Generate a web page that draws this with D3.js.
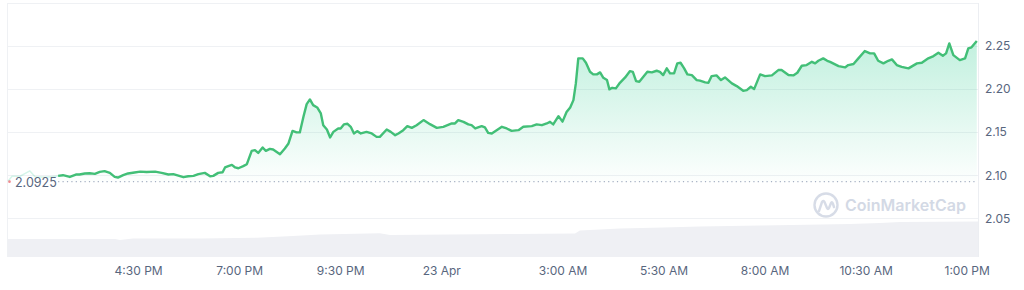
<!DOCTYPE html>
<html>
<head>
<meta charset="utf-8">
<script src="https://cdn.jsdelivr.net/npm/d3@7"></script>
<style>
  html, body { margin: 0; padding: 0; background: #fff; }
  svg { display: block; font-family: Inter, "Noto Sans", sans-serif; }
</style>
</head>
<body>
<div id="chart"></div>
<script>
// hours counted from 22 Apr 00:00
const fadedHours = [13.28, 13.38, 13.58, 13.82, 13.95, 14.2, 14.52];
const fadedPrices = [2.093, 2.0988, 2.0988, 2.105, 2.0983, 2.0977, 2.0992];

const priceHours = [
  14.52, 14.64, 14.81, 14.96, 15.05, 15.18, 15.3, 15.43, 15.55, 15.67, 15.8, 15.92, 16.0, 16.13, 16.25, 16.41, 16.55, 16.71, 16.92, 17.08,
  17.25, 17.37, 17.62, 17.74, 17.87, 17.99, 18.15, 18.28, 18.36, 18.48, 18.59, 18.65, 18.73, 18.82, 18.9, 18.98, 19.1, 19.19, 19.31, 19.39,
  19.47, 19.58, 19.66, 19.76, 19.84, 20.01, 20.13, 20.22, 20.32, 20.42, 20.5, 20.59, 20.67, 20.75, 20.83, 20.93, 21.02, 21.08, 21.17, 21.25,
  21.33, 21.45, 21.51, 21.59, 21.68, 21.76, 21.84, 21.92, 22.01, 22.15, 22.28, 22.4, 22.48, 22.65, 22.75, 22.86, 22.94, 23.06, 23.16, 23.27,
  23.39, 23.56, 23.72, 23.89, 24.05, 24.26, 24.34, 24.42, 24.55, 24.67, 24.75, 24.84, 25.0, 25.08, 25.16, 25.25, 25.5, 25.62, 25.74, 25.91,
  26.03, 26.24, 26.36, 26.49, 26.61, 26.69, 26.77, 26.9, 27.0, 27.1, 27.19, 27.27, 27.33, 27.39, 27.5, 27.58, 27.68, 27.76, 27.85, 27.93,
  28.01, 28.1, 28.16, 28.23, 28.32, 28.42, 28.55, 28.67, 28.74, 28.82, 28.9, 29.0, 29.1, 29.21, 29.33, 29.41, 29.49, 29.58, 29.66, 29.76,
  29.84, 29.92, 30.01, 30.09, 30.2, 30.32, 30.4, 30.53, 30.61, 30.69, 30.81, 30.92, 31.02, 31.19, 31.31, 31.47, 31.56, 31.66, 31.74, 31.89,
  32.01, 32.18, 32.34, 32.42, 32.59, 32.71, 32.81, 32.92, 33.04, 33.17, 33.25, 33.33, 33.45, 33.55, 33.62, 33.83, 33.99, 34.07, 34.2, 34.32,
  34.48, 34.61, 34.71, 34.81, 34.94, 35.06, 35.15, 35.27, 35.39, 35.56, 35.77, 35.89, 36.05, 36.18, 36.3, 36.41, 36.49, 36.57, 36.67, 36.83,
  36.96, 37.04, 37.12, 37.25
];
const prices = [
  2.0992, 2.1, 2.098, 2.1008, 2.1008, 2.102, 2.1023, 2.1015, 2.1038, 2.1047, 2.1027, 2.098, 2.0973, 2.1, 2.102, 2.1031, 2.1041, 2.1038, 2.1041, 2.1027,
  2.1008, 2.1012, 2.0977, 2.0988, 2.0992, 2.1012, 2.1027, 2.0988, 2.0992, 2.1027, 2.1035, 2.109, 2.1105, 2.112, 2.109, 2.1081, 2.1105, 2.1128, 2.1283, 2.1291,
  2.1259, 2.1322, 2.1283, 2.1306, 2.1299, 2.1244, 2.131, 2.1369, 2.1515, 2.1497, 2.1497, 2.1678, 2.1826, 2.188, 2.1814, 2.1787, 2.1717, 2.1581, 2.1531, 2.1438,
  2.1503, 2.1543, 2.1543, 2.159, 2.1597, 2.1562, 2.1485, 2.1512, 2.1485, 2.1503, 2.1485, 2.1445, 2.1445, 2.1531, 2.1503, 2.1465, 2.1485, 2.1523, 2.157, 2.155,
  2.1581, 2.164, 2.1593, 2.155, 2.1562, 2.1601, 2.1601, 2.164, 2.162, 2.159, 2.1581, 2.1543, 2.157, 2.1555, 2.1492, 2.1485, 2.1562, 2.1543, 2.1515, 2.1523,
  2.1562, 2.157, 2.159, 2.1581, 2.1601, 2.162, 2.159, 2.1686, 2.1622, 2.1733, 2.1787, 2.1872, 2.2066, 2.2357, 2.2357, 2.2306, 2.2201, 2.2171, 2.2171, 2.2194,
  2.2131, 2.2105, 2.1997, 2.2015, 2.2008, 2.2073, 2.2136, 2.2209, 2.2201, 2.2093, 2.2085, 2.2143, 2.2201, 2.2194, 2.2213, 2.2201, 2.2163, 2.2241, 2.2183, 2.2183,
  2.2299, 2.2306, 2.2241, 2.2171, 2.2163, 2.2105, 2.2099, 2.2078, 2.2073, 2.2151, 2.2159, 2.2105, 2.2136, 2.2066, 2.2035, 2.198, 2.1988, 2.2027, 2.2, 2.2171,
  2.2151, 2.2159, 2.2221, 2.2221, 2.2163, 2.2159, 2.219, 2.2271, 2.2279, 2.2317, 2.2299, 2.2329, 2.2357, 2.2329, 2.2317, 2.2267, 2.2252, 2.2279, 2.2291, 2.2357,
  2.2442, 2.2415, 2.2415, 2.2329, 2.2299, 2.2329, 2.2345, 2.2279, 2.2259, 2.2241, 2.2299, 2.2306, 2.2357, 2.2384, 2.2422, 2.2387, 2.2415, 2.2531, 2.2395, 2.2337,
  2.2357, 2.2473, 2.2485, 2.2558
];

// 24h volume, billions
const volumeHours = [13.28, 15.93, 16.05, 16.37, 18.03, 19.44, 20.33, 21.0, 22.48, 22.73, 25.87, 27.31, 27.43, 28.42, 29.49, 30.4, 31.89, 34.11, 34.86, 35.35, 37.28];
const volumes = [2.84, 2.84, 2.68, 2.92, 2.92, 3.05, 3.32, 3.55, 3.74, 3.47, 3.63, 3.71, 4.18, 4.5, 4.66, 4.82, 4.97, 5.21, 5.37, 5.53, 5.61];

const openPrice = 2.0925;
const priceTicks = [2.05, 2.1, 2.15, 2.2, 2.25];
const gridTicks = [2.05, 2.1, 2.15, 2.2, 2.25, 2.3];
const timeTicks = [16.5, 19, 21.5, 24, 27, 29.5, 32, 34.5, 37];

const width = 1024, height = 290;
const plotLeft = 8, plotRight = 978, plotTop = 3, plotBottom = 257;
const day0 = new Date(2025, 3, 22).getTime();
const toDate = (h) => new Date(day0 + h * 3600e3);

const svg = d3.select('#chart').append('svg')
  .attr('width', width).attr('height', height)
  .attr('viewBox', `0 0 ${width} ${height}`);

const x = d3.scaleTime()
  .domain([toDate(13.28), toDate(37.28)])
  .range([plotLeft, plotRight]);
const y = d3.scaleLinear().domain([2.005, 2.3]).range([plotBottom, plotTop]);
const yVol = d3.scaleLinear().domain([0, 6]).range([plotBottom, plotBottom - 38]);

const defs = svg.append('defs');
defs.append('clipPath').attr('id', 'plot')
  .append('rect').attr('x', plotLeft).attr('y', plotTop)
  .attr('width', plotRight - plotLeft).attr('height', plotBottom - plotTop);

const grad = defs.append('linearGradient').attr('id', 'fillGrad')
  .attr('gradientUnits', 'userSpaceOnUse')
  .attr('x1', 0).attr('x2', 0).attr('y1', y(2.26)).attr('y2', y(openPrice));
grad.append('stop').attr('offset', 0).attr('stop-color', '#16c784').attr('stop-opacity', 0.27);
grad.append('stop').attr('offset', 1).attr('stop-color', '#16c784').attr('stop-opacity', 0.01);

// Grid lines
svg.append('g')
  .selectAll('line')
  .data(gridTicks)
  .enter()
  .append('line')
  .attr('x1', plotLeft).attr('x2', plotRight)
  .attr('y1', (d) => Math.round(y(d)) + 0.5).attr('y2', (d) => Math.round(y(d)) + 0.5)
  .attr('stroke', '#eff1f4');

// Plot frame (left/right)
svg.append('line').attr('x1', plotLeft - 0.5).attr('x2', plotLeft - 0.5).attr('y1', plotTop).attr('y2', plotBottom)
  .attr('stroke', '#eff1f4');
svg.append('line').attr('x1', plotRight + 0.5).attr('x2', plotRight + 0.5).attr('y1', plotTop).attr('y2', plotBottom)
  .attr('stroke', '#eceef2');

// Volume area
const volData = volumeHours.map((h, i) => ({ t: toDate(h), v: volumes[i] }));
svg.append('path')
  .datum(volData)
  .attr('clip-path', 'url(#plot)')
  .attr('fill', '#eff0f4')
  .attr('d', d3.area().x((d) => x(d.t)).y0(plotBottom).y1((d) => yVol(d.v)));

// Watermark
const wm = svg.append('g').attr('transform', 'translate(826,205)').attr('opacity', 0.9);
wm.append('circle').attr('r', 11.5).attr('fill', 'none').attr('stroke', '#d3d9e5').attr('stroke-width', 2.4);
wm.append('path')
  .attr('d', 'M-7,6 L-4,-3 Q-3,-5 -1.5,-3 L1,3 Q2,5 3,3 L5,-2 Q6,-4 7,-1 L8,2')
  .attr('fill', 'none').attr('stroke', '#d3d9e5').attr('stroke-width', 2.4)
  .attr('stroke-linecap', 'round').attr('stroke-linejoin', 'round');
svg.append('text')
  .attr('x', 845).attr('y', 211)
  .attr('fill', '#d3d9e5')
  .style('font-size', '16px').style('font-weight', 600)
  .text('CoinMarketCap');

// Price area + line
const priceData = priceHours.map((h, i) => ({ t: toDate(h), p: prices[i] }));
const fadedData = fadedHours.map((h, i) => ({ t: toDate(h), p: fadedPrices[i] }));

svg.append('path')
  .datum(priceData)
  .attr('clip-path', 'url(#plot)')
  .attr('fill', 'url(#fillGrad)')
  .attr('d', d3.area().x((d) => x(d.t)).y0(y(openPrice)).y1((d) => y(d.p)));

// Open price reference
svg.append('line')
  .attr('x1', x(toDate(14.52))).attr('x2', plotRight - 2)
  .attr('y1', y(openPrice)).attr('y2', y(openPrice))
  .attr('stroke', '#a6b0c3').attr('stroke-width', 1.2)
  .attr('stroke-dasharray', '1.2,3.2');

svg.append('path')
  .datum(fadedData)
  .attr('fill', 'none')
  .attr('stroke', '#16c784').attr('stroke-opacity', 0.18).attr('stroke-width', 1.5)
  .attr('d', d3.line().x((d) => x(d.t)).y((d) => y(d.p)));

svg.append('circle')
  .attr('cx', x(toDate(fadedHours[0])) + 1.5).attr('cy', y(openPrice))
  .attr('r', 1.3).attr('fill', '#ea3943').attr('opacity', 0.6);

svg.append('path')
  .datum(priceData)
  .attr('fill', 'none')
  .attr('stroke', '#42bf77')
  .attr('stroke-width', 2.4)
  .attr('stroke-linejoin', 'round')
  .attr('d', d3.line().x((d) => x(d.t)).y((d) => y(d.p)));

svg.append('text')
  .attr('x', 15).attr('y', 187)
  .attr('fill', '#58667e')
  .style('font-size', '12.5px')
  .text(openPrice.toString());

// Y axis
const yAxis = svg.append('g')
  .attr('transform', `translate(${plotRight},0)`)
  .call(d3.axisRight(y).tickValues(priceTicks).tickSize(0).tickPadding(7).tickFormat(d3.format('.2f')));
yAxis.select('.domain').remove();
yAxis.selectAll('text').attr('fill', '#58667e').style('font-size', '12px').style('font-family', 'Inter, sans-serif');

// X axis
const fmtTime = d3.timeFormat('%-I:%M %p');
const xAxis = svg.append('g')
  .attr('transform', `translate(0,${plotBottom})`)
  .call(d3.axisBottom(x).tickValues(timeTicks.map(toDate)).tickSize(0).tickPadding(9)
    .tickFormat((d) => (d.getHours() === 0 ? d3.timeFormat('%-d %b')(d) : fmtTime(d))));
xAxis.select('.domain').remove();
xAxis.selectAll('text').attr('fill', '#58667e').style('font-size', '12px').style('font-family', 'Inter, sans-serif');
</script>
</body>
</html>
